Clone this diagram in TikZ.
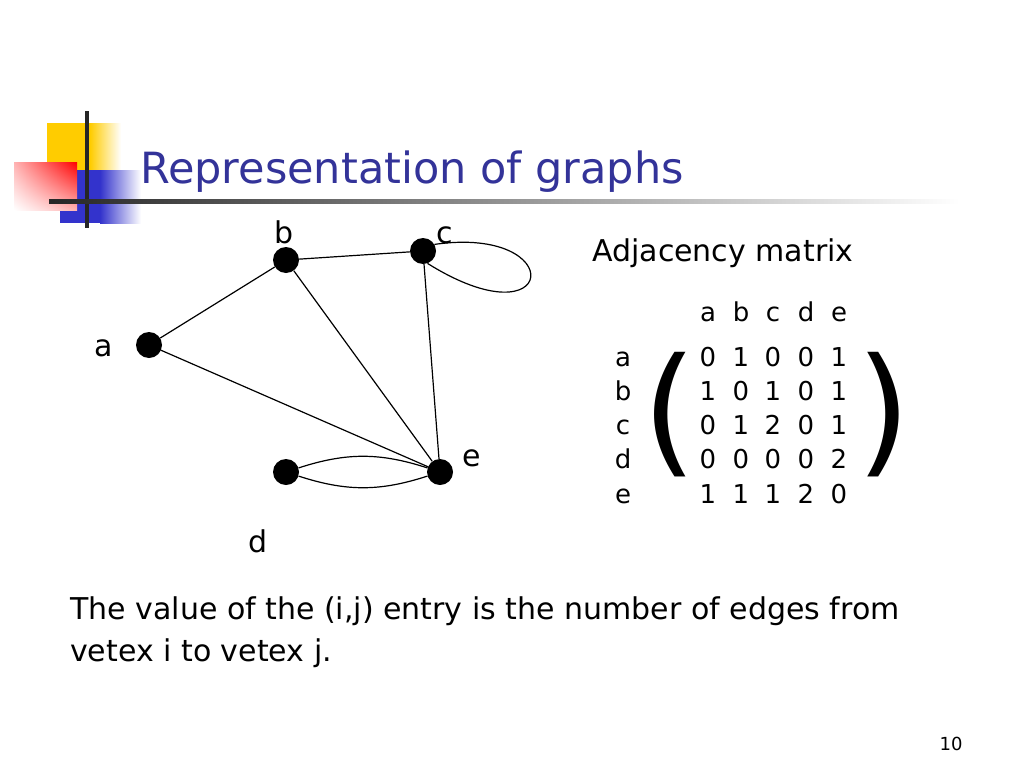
\documentclass[tikz,border=0pt]{standalone}
\usepackage{fontspec}
\usetikzlibrary{shadings}
\setmainfont{DejaVu Sans}
\definecolor{titleblue}{RGB}{51,51,153}
\definecolor{logoyellow}{RGB}{255,204,0}
\definecolor{logoblue}{RGB}{51,51,204}
\definecolor{logored}{RGB}{255,0,0}
\begin{document}
\begin{tikzpicture}[x=1pt, y=-1pt,
  vertex/.style={circle, fill=black, minimum size=26pt, inner sep=0pt},
  vname/.style={anchor=base, inner sep=0pt, font=\fontsize{30}{36}\selectfont},
  entry/.style={anchor=base, inner sep=0pt, font=\fontsize{26}{30}\selectfont},
  prose/.style={anchor=base west, inner sep=0pt, font=\fontsize{30}{36}\selectfont},
  paren/.style={inner sep=0pt, font=\fontsize{140}{140}\selectfont}]
\fill[white] (0,0) rectangle (1024,768);
\useasboundingbox (0,0) rectangle (1024,768);

% logo
\fill[logoyellow] (47,123) rectangle (90,170);
\shade[left color=logoyellow, right color=white] (90,123) rectangle (121,170);
\fill[logoblue] (60,170) rectangle (100,223);
\shade[left color=logoblue, right color=white] (100,170) rectangle (141,223);
\shade[upper left=logored!30, upper right=logored, lower left=white, lower right=logored!30] (14,162) rectangle (77,210);
\fill[black!85] (85,111) rectangle (89,228);
\shade[left color=black!85, right color=white] (49,199) rectangle (960,203.5);
\node[anchor=base west, inner sep=0pt, text=titleblue, font=\fontsize{43}{50}\selectfont] (title) at (140,183) {Representation of graphs};

% graph
\node[vertex] (a) at (149,345) {};
\node[vertex] (b) at (286,260) {};
\node[vertex] (c) at (423,251) {};
\node[vertex] (d) at (286,472) {};
\node[vertex] (e) at (440,472) {};
\node[vname] (la) at (104,356) {a};
\node[vname] (lb) at (284,243) {b};
\node[vname] (lc) at (445,243) {c};
\node[vname] (ld) at (258,552) {d};
\node[vname] (le) at (472,466) {e};

\draw[line width=1.2pt] (a) to (b);
\draw[line width=1.2pt] (a) to (e);
\draw[line width=1.2pt] (b) to (c);
\draw[line width=1.2pt] (b) to (e);
\draw[line width=1.2pt] (c) to (e);
\draw[line width=1.2pt] (c.30) .. controls (570,225) and (558,345) .. (c.-70);
\draw[line width=1.2pt] (d) to[bend left=18] (e);
\draw[line width=1.2pt] (d) to[bend right=18] (e);

% adjacency matrix
\node[prose] (adj) at (592,261) {Adjacency matrix};
\node[entry] (ha) at (708,321) {a}; \node[entry] (hb) at (741,321) {b}; \node[entry] (hc) at (773,321) {c}; \node[entry] (hd) at (806,321) {d}; \node[entry] (he) at (839,321) {e};
\node[entry] (ra) at (623,366) {a}; \node[entry] (aa) at (708,366) {0}; \node[entry] (ab) at (741,366) {1}; \node[entry] (ac) at (773,366) {0}; \node[entry] (ad) at (806,366) {0}; \node[entry] (ae) at (839,366) {1};
\node[entry] (rb) at (623,400) {b}; \node[entry] (ba) at (708,400) {1}; \node[entry] (bb) at (741,400) {0}; \node[entry] (bc) at (773,400) {1}; \node[entry] (bd) at (806,400) {0}; \node[entry] (be) at (839,400) {1};
\node[entry] (rc) at (623,434) {c}; \node[entry] (ca) at (708,434) {0}; \node[entry] (cb) at (741,434) {1}; \node[entry] (cc) at (773,434) {2}; \node[entry] (cd) at (806,434) {0}; \node[entry] (ce) at (839,434) {1};
\node[entry] (rd) at (623,468) {d}; \node[entry] (da) at (708,468) {0}; \node[entry] (db) at (741,468) {0}; \node[entry] (dc) at (773,468) {0}; \node[entry] (dd) at (806,468) {0}; \node[entry] (de) at (839,468) {2};
\node[entry] (re) at (623,503) {e}; \node[entry] (ea) at (708,503) {1}; \node[entry] (eb) at (741,503) {1}; \node[entry] (ec) at (773,503) {1}; \node[entry] (ed) at (806,503) {2}; \node[entry] (ee) at (839,503) {0};
\node[paren] (lp) at (670,415) {(};
\node[paren] (rp) at (884,415) {)};

% caption
\node[prose] (line1) at (70,619) {The value of the (i,j) entry is the number of edges from};
\node[prose] (line2) at (70,661) {vetex i to vetex j.};
\node[anchor=base, inner sep=0pt, font=\fontsize{18}{20}\selectfont] (page) at (951,750) {10};
\end{tikzpicture}
\end{document}
